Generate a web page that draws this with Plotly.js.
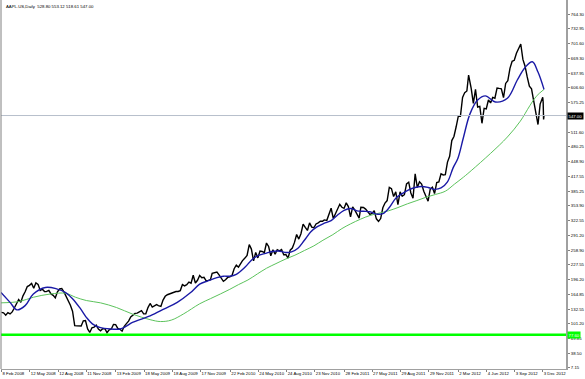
<!DOCTYPE html>
<html>
<head>
<meta charset="utf-8">
<script src="https://cdn.plot.ly/plotly-3.0.1.min.js"></script>
<style>html,body{margin:0;padding:0;background:#fff;}#chart{width:585px;height:379px;}</style>
</head>
<body>
<div id="chart"></div>
<script>
// ---- data ----
const weekDates = [
"2008-02-08","2008-02-15","2008-02-22","2008-02-29","2008-03-07","2008-03-14","2008-03-20","2008-03-28","2008-04-04","2008-04-11","2008-04-18","2008-04-25",
"2008-05-02","2008-05-09","2008-05-16","2008-05-23","2008-05-30","2008-06-06","2008-06-13","2008-06-20","2008-06-27","2008-07-03","2008-07-11","2008-07-18","2008-07-25",
"2008-08-01","2008-08-08","2008-08-15","2008-08-22","2008-08-29","2008-09-05","2008-09-12","2008-09-19","2008-09-26","2008-10-03","2008-10-10","2008-10-17","2008-10-24","2008-10-31",
"2008-11-07","2008-11-14","2008-11-21","2008-11-28","2008-12-05","2008-12-12","2008-12-19","2008-12-26",
"2009-01-02","2009-01-09","2009-01-16","2009-01-23","2009-01-30","2009-02-06","2009-02-13","2009-02-20","2009-02-27","2009-03-06","2009-03-13","2009-03-20","2009-03-27",
"2009-04-03","2009-04-09","2009-04-17","2009-04-24","2009-05-01","2009-05-08","2009-05-15","2009-05-22","2009-05-29","2009-06-05","2009-06-12","2009-06-19","2009-06-26",
"2009-07-02","2009-07-10","2009-07-17","2009-07-24","2009-07-31","2009-08-07","2009-08-14","2009-08-21","2009-08-28","2009-09-04","2009-09-11","2009-09-18","2009-09-25",
"2009-10-02","2009-10-09","2009-10-16","2009-10-23","2009-10-30","2009-11-06","2009-11-13","2009-11-20","2009-11-27","2009-12-04","2009-12-11","2009-12-18","2009-12-24","2009-12-31",
"2010-01-08","2010-01-15","2010-01-22","2010-01-29","2010-02-05","2010-02-12","2010-02-19","2010-02-26","2010-03-05","2010-03-12","2010-03-19","2010-03-26",
"2010-04-01","2010-04-09","2010-04-16","2010-04-23","2010-04-30","2010-05-07","2010-05-14","2010-05-21","2010-05-28","2010-06-04","2010-06-11","2010-06-18","2010-06-25",
"2010-07-02","2010-07-09","2010-07-16","2010-07-23","2010-07-30","2010-08-06","2010-08-13","2010-08-20","2010-08-27","2010-09-03","2010-09-10","2010-09-17","2010-09-24",
"2010-10-01","2010-10-08","2010-10-15","2010-10-22","2010-10-29","2010-11-05","2010-11-12","2010-11-19","2010-11-26","2010-12-03","2010-12-10","2010-12-17","2010-12-23","2010-12-31",
"2011-01-07","2011-01-14","2011-01-21","2011-01-28","2011-02-04","2011-02-11","2011-02-18","2011-02-25","2011-03-04","2011-03-11","2011-03-18","2011-03-25",
"2011-04-01","2011-04-08","2011-04-15","2011-04-21","2011-04-29","2011-05-06","2011-05-13","2011-05-20","2011-05-27","2011-06-03","2011-06-10","2011-06-17","2011-06-24",
"2011-07-01","2011-07-08","2011-07-15","2011-07-22","2011-07-29","2011-08-05","2011-08-12","2011-08-19","2011-08-26","2011-09-02","2011-09-09","2011-09-16","2011-09-23","2011-09-30",
"2011-10-07","2011-10-14","2011-10-21","2011-10-28","2011-11-04","2011-11-11","2011-11-18","2011-11-25","2011-12-02","2011-12-09","2011-12-16","2011-12-23","2011-12-30",
"2012-01-06","2012-01-13","2012-01-20","2012-01-27","2012-02-03","2012-02-10","2012-02-17","2012-02-24","2012-03-02","2012-03-09","2012-03-16","2012-03-23","2012-03-30",
"2012-04-05","2012-04-13","2012-04-20","2012-04-27","2012-05-04","2012-05-11","2012-05-18","2012-05-25","2012-06-01","2012-06-08","2012-06-15","2012-06-22","2012-06-29",
"2012-07-06","2012-07-13","2012-07-20","2012-07-27","2012-08-03","2012-08-10","2012-08-17","2012-08-24","2012-08-31","2012-09-07","2012-09-14","2012-09-21","2012-09-28",
"2012-10-05","2012-10-12","2012-10-19","2012-10-26","2012-11-02","2012-11-09","2012-11-16","2012-11-23","2012-11-30","2012-12-03","2012-12-04","2012-12-05","2012-12-06"
];
const weekClose = [
125.5,124.6,119.5,125.0,122.3,126.6,133.3,143.0,153.1,147.1,161.0,169.7,
180.9,183.5,187.6,177.1,188.8,185.6,172.4,175.3,170.1,170.1,172.6,165.2,162.1,
156.7,169.6,175.7,176.8,169.5,160.2,148.9,140.9,128.2,97.1,96.8,97.4,96.4,107.6,
108.2,90.2,82.6,92.7,94.0,98.3,90.0,86.1,
90.8,90.6,82.3,88.4,90.1,99.7,99.3,91.2,89.3,85.3,95.9,101.6,106.9,
116.0,119.6,123.4,123.9,127.2,129.2,122.4,122.5,135.8,144.7,137.0,139.5,142.4,
140.0,138.5,151.8,160.0,163.4,165.5,166.8,169.2,170.3,170.3,172.2,185.0,182.4,
184.9,190.5,188.1,205.2,188.5,194.3,204.5,199.9,200.6,193.3,194.0,195.4,209.0,210.7,
212.0,205.9,197.9,192.1,195.5,200.4,201.7,204.6,219.0,226.6,222.3,230.9,
236.0,241.8,247.4,270.8,261.1,235.9,253.8,242.3,256.9,256.0,253.5,274.1,266.7,
246.9,259.6,249.9,259.9,257.3,260.1,249.1,249.6,241.6,258.8,263.4,275.4,292.3,
282.5,294.1,314.7,307.5,301.0,317.1,308.0,306.7,315.0,317.4,320.6,320.6,323.6,322.6,
336.1,348.5,326.7,336.1,346.5,356.9,350.6,348.2,360.0,352.0,330.0,351.5,
344.6,335.1,327.5,350.7,350.1,346.7,340.5,335.2,337.4,343.4,325.9,320.3,326.4,
349.4,359.7,364.9,393.3,390.5,373.6,383.6,356.0,383.6,374.1,377.5,400.5,404.3,381.3,
369.8,422.0,392.9,405.0,400.2,384.9,374.9,363.6,389.7,393.6,380.0,403.4,405.0,
422.4,419.8,420.3,447.3,459.7,493.4,502.1,522.4,545.2,545.2,585.6,596.1,599.6,
633.7,605.2,573.0,603.0,565.3,566.7,530.4,562.3,561.0,580.3,574.1,585.7,584.0,
605.9,605.0,604.3,585.2,615.7,621.7,648.1,663.2,665.2,680.4,691.3,700.1,667.1,
652.6,629.7,609.8,604.0,576.8,547.1,527.7,571.5,585.3,586.2,575.9,538.8,547.0
];
// blue moving average (fast)
const maFastDates = [
"2008-02-07","2008-03-07","2008-03-31","2008-04-25","2008-05-22","2008-07-01","2008-08-06","2008-09-04","2008-09-26","2008-10-22",
"2008-11-11","2008-12-01","2008-12-24","2009-01-28","2009-02-27","2009-03-18","2009-04-09","2009-06-05","2009-07-22","2009-09-02",
"2009-10-15","2009-11-13","2009-12-10","2010-01-08","2010-01-29","2010-02-19","2010-03-12","2010-04-09","2010-05-05","2010-05-26",
"2010-06-16","2010-07-07","2010-07-28","2010-08-18","2010-09-08","2010-09-29","2010-10-20","2010-11-10","2010-12-01","2010-12-22",
"2011-01-14","2011-02-04","2011-02-25","2011-03-18","2011-04-08","2011-04-29","2011-05-20","2011-06-10","2011-07-01","2011-07-22",
"2011-08-12","2011-09-02","2011-09-23","2011-10-14","2011-11-04","2011-11-25","2011-12-16","2012-01-06","2012-01-27","2012-02-15",
"2012-03-01","2012-03-20","2012-04-10","2012-05-04","2012-05-30","2012-07-02","2012-08-09","2012-09-11","2012-10-05","2012-10-30",
"2012-11-16","2012-12-06"
];
const maFastValues = [
168,147,131,140,165,179,176,168,155,134,
115,101,93.5,90,90,95,104,118,133,147,
168,186,193,200,203,203,207,222,240,248,
252,256,257,254,255,263,280,298,309,316,
322,334,344,348,343,342,341,336,337,350,
370,380,388,393,395,393,389,392,405,435,
455,500,550,580,589,576,584,623,650,662,
640,603
];
// green moving average (slow)
const maSlowDates = [
"2008-02-07","2008-04-08","2008-05-22","2008-07-17","2008-09-04","2008-10-07","2008-11-11","2008-12-26","2009-02-17","2009-04-09",
"2009-06-05","2009-07-09","2009-08-13","2009-09-22","2009-11-13","2009-12-18","2010-01-20","2010-02-19","2010-03-19","2010-04-20",
"2010-05-20","2010-06-18","2010-07-20","2010-08-20","2010-09-20","2010-10-20","2010-11-19","2010-12-20","2011-01-20","2011-02-18",
"2011-03-18","2011-04-20","2011-05-20","2011-06-20","2011-07-20","2011-08-19","2011-09-20","2011-10-20","2011-11-18","2011-12-20",
"2012-01-20","2012-02-20","2012-03-20","2012-04-13","2012-06-15","2012-08-09","2012-09-20","2012-10-22","2012-11-12","2012-12-06"
];
const maSlowValues = [
146,149,158,165,166.5,158,151,146,136,122,
110,106,109,122,144,155,165,175,185,195,
208,220,230,240,248,258,268,280,292,305,
315,325,333,338,343,350,358,365,372,378,
385,400,415,429,466,501,535,568,588,603
];
const lastPrice = 547.00;
const supportLevel = 77.60;
const chartTitle = "AAPL.US,Daily  528.80 553.12 518.61 547.00";
const yTickVals = [7.15,38.50,69.85,101.20,132.55,164.85,196.20,227.55,258.90,291.20,322.55,353.90,385.25,417.55,448.90,480.25,511.60,575.25,606.60,637.95,669.30,701.60,732.95,764.30];
const xTickDates = ["2008-02-08","2008-05-12","2008-08-12","2008-11-11","2009-02-13","2009-05-18","2009-08-18","2009-11-17","2010-02-22","2010-05-24",
"2010-08-24","2010-11-23","2011-02-28","2011-05-27","2011-08-29","2011-11-29","2012-03-02","2012-06-04","2012-09-03","2012-12-03"];
const xTickText = ["8 Feb 2008","12 May 2008","12 Aug 2008","11 Nov 2008","13 Feb 2009","18 May 2009","18 Aug 2009","17 Nov 2009","22 Feb 2010","24 May 2010",
"24 Aug 2010","23 Nov 2010","28 Feb 2011","27 May 2011","29 Aug 2011","29 Nov 2011","2 Mar 2012","4 Jun 2012","3 Sep 2012","3 Dec 2012"];

// ---- chart ----
const FONT = "Liberation Sans, Arial, sans-serif";
const FS = 4.3;
const traces = [
  {x: weekDates, y: weekClose, type: "scatter", mode: "lines", line: {color: "#000000", width: 1.4}, hoverinfo: "skip"},
  {x: maSlowDates, y: maSlowValues, type: "scatter", mode: "lines", line: {color: "#5cc35c", width: 1, shape: "spline", smoothing: 1}, hoverinfo: "skip"},
  {x: maFastDates, y: maFastValues, type: "scatter", mode: "lines", line: {color: "#1a1aa6", width: 1.4, shape: "spline", smoothing: 1}, hoverinfo: "skip"}
];
const layout = {
  width: 585, height: 379,
  margin: {l: 1, r: 19, t: 0, b: 10, pad: 0},
  paper_bgcolor: "#ffffff", plot_bgcolor: "#ffffff",
  showlegend: false,
  font: {family: FONT, size: FS, color: "#000"},
  xaxis: {
    type: "date", range: ["2008-02-07", "2013-02-15"],
    rangebreaks: [{bounds: ["sat", "mon"]}],
    tickmode: "array", tickvals: xTickDates, ticktext: xTickText,
    tickangle: 0,
    ticks: "outside", ticklen: 2, tickwidth: 1, tickcolor: "#808080",
    ticklabelposition: "outside right",
    tickfont: {family: FONT, size: FS, color: "#000"},
    showgrid: false, zeroline: false,
    showline: true, linecolor: "#a0a0a0", linewidth: 1
  },
  yaxis: {
    side: "right", range: [4.4, 794.3],
    tickmode: "array", tickvals: yTickVals, ticktext: yTickVals.map(v => v.toFixed(2)),
    ticks: "outside", ticklen: 2, tickwidth: 1, tickcolor: "#808080",
    tickfont: {family: FONT, size: FS, color: "#000"},
    showgrid: false, zeroline: false,
    showline: true, linecolor: "#a0a0a0", linewidth: 2
  },
  shapes: [
    {type: "line", xref: "paper", yref: "y", x0: 0, x1: 1, y0: lastPrice, y1: lastPrice, line: {color: "#b7bfcc", width: 1}},
    {type: "line", xref: "paper", yref: "y", x0: 0, x1: 1, y0: supportLevel, y1: supportLevel, line: {color: "#00ff00", width: 2.5}},
    {type: "line", xref: "paper", yref: "paper", x0: 0, x1: 0, y0: 0, y1: 1, line: {color: "#808080", width: 1}}
  ],
  annotations: [
    {xref: "paper", yref: "paper", x: 0.006, y: 1, xanchor: "left", yanchor: "top", yshift: -2, showarrow: false,
     text: chartTitle, font: {family: FONT, size: FS, color: "#000"}},
    {xref: "paper", yref: "y", x: 1, y: lastPrice, xanchor: "left", yanchor: "middle", xshift: 1, showarrow: false,
     text: lastPrice.toFixed(2), bgcolor: "#000000", borderpad: 0.5, font: {family: FONT, size: FS, color: "#ffffff"}},
    {xref: "paper", yref: "y", x: 1, y: supportLevel, xanchor: "left", yanchor: "middle", xshift: 1, showarrow: false,
     text: supportLevel.toFixed(2), bgcolor: "#00ff00", borderpad: 0.5, font: {family: FONT, size: FS, color: "#ffffff"}}
  ]
};
Plotly.newPlot("chart", traces, layout, {staticPlot: true, displayModeBar: false});
</script>
</body>
</html>
